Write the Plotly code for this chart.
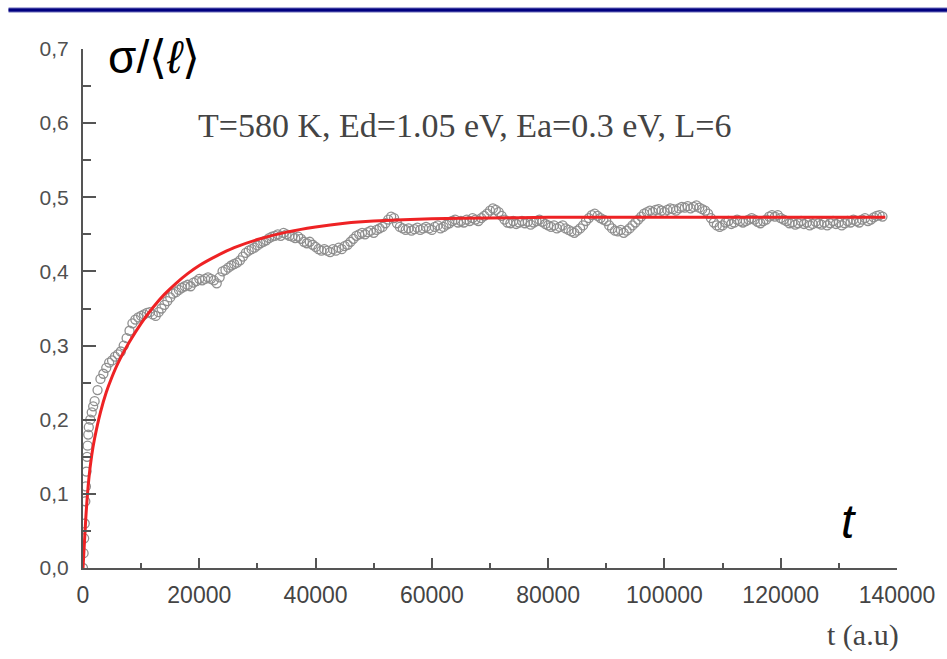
import plotly.graph_objects as go

# ---- data ----
# early samples (steep rise near t = 0)
t_early = [0, 100, 200, 300, 400, 500, 600, 700, 800, 900, 1000, 1250, 1500, 1750]
y_early = [0.0, 0.02, 0.04, 0.06, 0.09, 0.11, 0.13, 0.15, 0.165, 0.18, 0.19, 0.20, 0.21, 0.218]

# regular samples from t = 2000, step 500
t_start = 2000
t_step = 500
y_main = [
    0.225, 0.240, 0.255, 0.262, 0.270, 0.277, 0.280, 0.285, 0.288, 0.292,  # 2000
    0.300, 0.310, 0.320, 0.330, 0.335, 0.338, 0.340, 0.342, 0.344, 0.345,  # 7000
    0.342, 0.340, 0.345, 0.350, 0.355, 0.360, 0.365, 0.370, 0.372, 0.375,  # 12000
    0.378, 0.380, 0.382, 0.380, 0.385, 0.387, 0.390, 0.388, 0.390, 0.392,  # 17000
    0.390, 0.388, 0.384, 0.392, 0.400, 0.402, 0.405, 0.408, 0.410, 0.412,  # 22000
    0.415, 0.420, 0.425, 0.428, 0.430, 0.432, 0.435, 0.438, 0.440, 0.442,  # 27000
    0.445, 0.447, 0.448, 0.450, 0.448, 0.452, 0.450, 0.448, 0.447, 0.445,  # 32000
    0.447, 0.444, 0.440, 0.438, 0.440, 0.436, 0.433, 0.430, 0.428, 0.430,  # 37000
    0.428, 0.426, 0.430, 0.428, 0.432, 0.430, 0.434, 0.436, 0.440, 0.444,  # 42000
    0.448, 0.450, 0.452, 0.450, 0.453, 0.455, 0.452, 0.456, 0.458, 0.460,  # 47000
    0.465, 0.470, 0.474, 0.472, 0.465, 0.460, 0.458, 0.456, 0.458, 0.455,  # 52000
    0.457, 0.459, 0.456, 0.458, 0.460, 0.458, 0.456, 0.460, 0.462, 0.458,  # 57000
    0.460, 0.463, 0.465, 0.468, 0.470, 0.466, 0.468, 0.466, 0.470, 0.468,  # 62000
    0.472, 0.470, 0.468, 0.472, 0.475, 0.478, 0.482, 0.485, 0.483, 0.480,  # 67000
    0.475, 0.470, 0.466, 0.465, 0.468, 0.464, 0.466, 0.468, 0.465, 0.467,  # 72000
    0.463, 0.466, 0.468, 0.470, 0.467, 0.464, 0.462, 0.460, 0.462, 0.458,  # 77000
    0.460, 0.462, 0.458, 0.456, 0.454, 0.452, 0.455, 0.458, 0.462, 0.468,  # 82000
    0.472, 0.476, 0.478, 0.475, 0.472, 0.470, 0.468, 0.462, 0.458, 0.455,  # 87000
    0.454, 0.456, 0.452, 0.455, 0.458, 0.462, 0.466, 0.470, 0.474, 0.478,  # 92000
    0.480, 0.482, 0.480, 0.483, 0.484, 0.482, 0.480, 0.483, 0.485, 0.484,  # 97000
    0.482, 0.485, 0.487, 0.486, 0.488, 0.485, 0.487, 0.489, 0.486, 0.484,  # 102000
    0.482, 0.478, 0.472, 0.466, 0.462, 0.460, 0.462, 0.466, 0.468, 0.464,  # 107000
    0.466, 0.470, 0.468, 0.466, 0.468, 0.470, 0.472, 0.470, 0.467, 0.465,  # 112000
    0.468, 0.470, 0.474, 0.476, 0.474, 0.476, 0.472, 0.470, 0.468, 0.465,  # 117000
    0.466, 0.463, 0.465, 0.468, 0.464, 0.466, 0.462, 0.464, 0.467, 0.465,  # 122000
    0.463, 0.466, 0.462, 0.465, 0.468, 0.464, 0.466, 0.462, 0.465, 0.468,  # 127000
    0.466, 0.470, 0.468, 0.466, 0.470, 0.472, 0.468, 0.470, 0.473, 0.475,  # 132000
    0.476, 0.474,                                                          # 137000
]
t_main = [t_start + t_step * i for i in range(len(y_main))]

# red fitted curve
t_fit = [0, 500, 1000, 1500, 2000, 3000, 4000, 5000, 6000, 8000, 10000, 12000, 14000,
         16000, 18000, 20000, 23000, 26000, 30000, 35000, 40000, 45000, 50000, 60000,
         70000, 80000, 100000, 120000, 138000]
y_fit = [0.0, 0.07, 0.12, 0.152, 0.175, 0.21, 0.237, 0.258, 0.276, 0.305, 0.33, 0.351,
         0.369, 0.384, 0.397, 0.408, 0.421, 0.432, 0.443, 0.453, 0.46, 0.465, 0.468,
         0.471, 0.472, 0.473, 0.473, 0.473, 0.473]

x_ticks = [0, 20000, 40000, 60000, 80000, 100000, 120000, 140000]
y_ticks = [0.0, 0.1, 0.2, 0.3, 0.4, 0.5, 0.6, 0.7]

W, H = 947, 659
L, R, T, B = 82.5, 897, 49, 568  # plot area in pixels


def px_x(px):
    return (px - L) / (R - L)


def px_y(py):
    return (B - py) / (B - T)


AX = "#555555"

fig = go.Figure()
fig.add_trace(go.Scatter(
    x=t_early + t_main, y=y_early + y_main, mode="markers",
    marker=dict(symbol="circle-open", size=9, color="#8f8f8f", line=dict(width=1.3, color="#8f8f8f")),
    showlegend=False, hoverinfo="skip"))
fig.add_trace(go.Scatter(
    x=t_fit, y=y_fit, mode="lines",
    line=dict(color="#ee2224", width=3, shape="spline", smoothing=0.5),
    showlegend=False, hoverinfo="skip"))

fig.update_layout(
    width=W, height=H,
    margin=dict(l=L, r=W - R, t=T, b=H - B, pad=0),
    paper_bgcolor="white", plot_bgcolor="white",
    separators=",.",
    showlegend=False,
    xaxis=dict(range=[0, 140000], tickvals=x_ticks, tickformat="d",
               showgrid=False, zeroline=False, showline=True, linecolor=AX, linewidth=2,
               ticks="inside", ticklen=10, tickwidth=2, tickcolor=AX,
               minor=dict(dtick=10000, ticks="inside", ticklen=5, tickwidth=2, tickcolor=AX),
               tickfont=dict(family="Liberation Sans, Arial", size=23, color="#444444"),
               ticklabelstandoff=5),
    yaxis=dict(range=[0, 0.7], tickvals=y_ticks, tickformat=".1f",
               showgrid=False, zeroline=False, showline=True, linecolor=AX, linewidth=2,
               ticks="inside", ticklen=13, tickwidth=2, tickcolor=AX,
               minor=dict(dtick=0.05, ticks="inside", ticklen=8, tickwidth=2, tickcolor=AX),
               tickfont=dict(family="Liberation Sans, Arial", size=21, color="#505050"),
               ticklabelstandoff=8),
)

# top dark-blue rule
fig.add_shape(type="line", xref="paper", yref="paper",
              x0=px_x(8), x1=px_x(947), y0=px_y(10), y1=px_y(10),
              line=dict(color="#6a6ab8", width=5))
fig.add_shape(type="line", xref="paper", yref="paper",
              x0=px_x(8), x1=px_x(947), y0=px_y(10), y1=px_y(10),
              line=dict(color="#000080", width=3))

# y-axis label
fig.add_annotation(xref="paper", yref="paper", x=px_x(106), y=px_y(57),
                   xanchor="left", yanchor="middle", showarrow=False,
                   text="σ/⟨<i>ℓ</i>⟩", font=dict(family="Liberation Sans, Arial", size=46, color="black"))
# parameters
fig.add_annotation(xref="paper", yref="paper", x=px_x(464), y=px_y(125),
                   xanchor="center", yanchor="middle", showarrow=False,
                   text="T=580 K, Ed=1.05 eV, Ea=0.3 eV, L=6",
                   font=dict(family="Liberation Serif, Times New Roman", size=34, color="#444444"))
# big italic t
fig.add_annotation(xref="paper", yref="paper", x=px_x(848), y=px_y(521),
                   xanchor="center", yanchor="middle", showarrow=False,
                   text="<i>t</i>", font=dict(family="Liberation Sans, Arial", size=48, color="black"))
# x-axis label
fig.add_annotation(xref="paper", yref="paper", x=px_x(901), y=px_y(635),
                   xanchor="right", yanchor="middle", showarrow=False,
                   text="t (a.u)", font=dict(family="Liberation Serif, Times New Roman", size=30, color="#444444"))

fig.write_html("out.html")
